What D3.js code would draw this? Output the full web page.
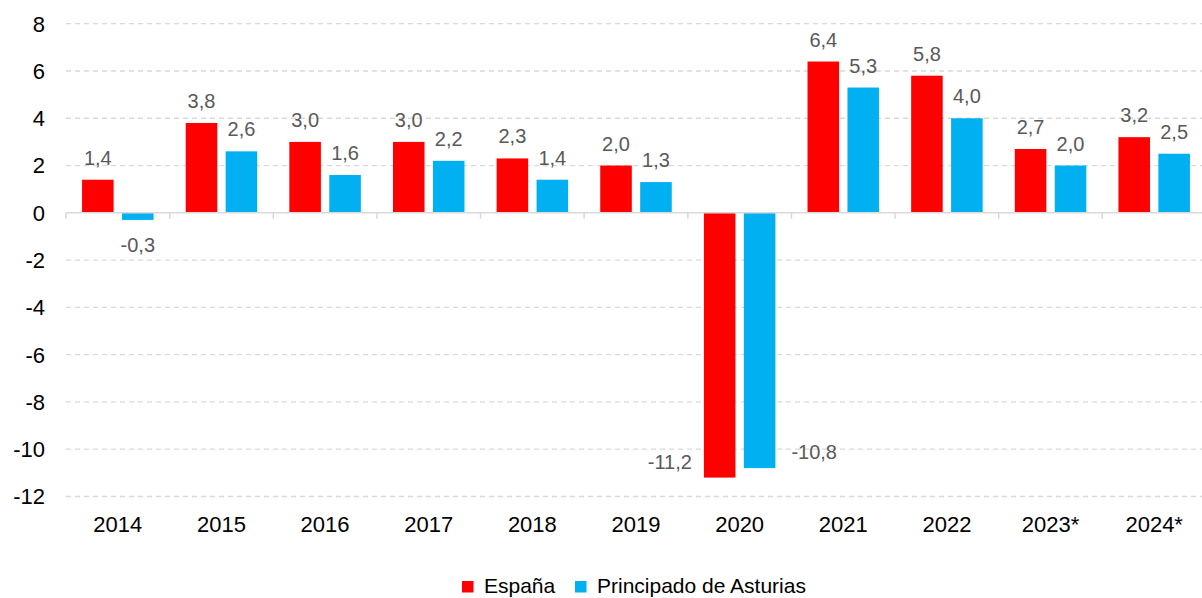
<!DOCTYPE html>
<html>
<head>
<meta charset="utf-8">
<script src="https://cdn.jsdelivr.net/npm/d3@7"></script>
<style>
  html, body { margin: 0; padding: 0; background: #fff; }
  svg { display: block; font-family: "Liberation Sans", Arial, sans-serif; }
  .grid line { stroke: #d9d9d9; stroke-width: 1.3; stroke-dasharray: 5 4; }
  .axis-label { fill: #000; font-size: 22px; }
  .value-label { fill: #595959; font-size: 20px; }
  .legend-label { fill: #000; font-size: 21px; }
</style>
</head>
<body>
<div id="draw-space"></div>
<script>
const years = ['2014', '2015', '2016', '2017', '2018', '2019', '2020', '2021', '2022', '2023*', '2024*'];
const espana = [1.4, 3.8, 3.0, 3.0, 2.3, 2.0, -11.2, 6.4, 5.8, 2.7, 3.2];
const asturias = [-0.3, 2.6, 1.6, 2.2, 1.4, 1.3, -10.8, 5.3, 4.0, 2.0, 2.5];
const seriesNames = ['España', 'Principado de Asturias'];
const yTicks = [8, 6, 4, 2, 0, -2, -4, -6, -8, -10, -12];

const colors = { 'España': '#ff0000', 'Principado de Asturias': '#00b0f0' };

const W = 1202, H = 598;
const svg = d3.select('#draw-space').append('svg')
              .attr('width', W)
              .attr('height', H);

const xScale = d3.scaleBand()
                 .domain(years)
                 .range([66, 1206])
                 .paddingInner(0.31)
                 .paddingOuter(0.155);

const xInner = d3.scaleBand()
                 .domain(seriesNames)
                 .range([0, xScale.bandwidth()])
                 .paddingInner(0.21);

const yScale = d3.scaleLinear()
                 .domain([-12, 8])
                 .range([496.5, 23.7]);

// dashed gridlines
svg.append('g')
   .attr('class', 'grid')
   .selectAll('line')
   .data(yTicks.filter(d => d !== 0))
   .enter()
   .append('line')
     .attr('x1', 66)
     .attr('x2', W)
     .attr('y1', d => yScale(d))
     .attr('y2', d => yScale(d));

// y labels
svg.append('g')
   .selectAll('text')
   .data(yTicks)
   .enter()
   .append('text')
     .attr('class', 'axis-label')
     .attr('x', 45)
     .attr('y', d => yScale(d))
     .attr('dy', '0.36em')
     .attr('text-anchor', 'end')
     .text(d => d);

// x labels
svg.append('g')
   .selectAll('text')
   .data(years)
   .enter()
   .append('text')
     .attr('class', 'axis-label')
     .attr('x', d => xScale(d) + xScale.bandwidth() / 2)
     .attr('y', 532)
     .attr('text-anchor', 'middle')
     .text(d => d);

const rows = [];
years.forEach((y, i) => {
  rows.push({ year: y, name: seriesNames[0], value: espana[i] });
  rows.push({ year: y, name: seriesNames[1], value: asturias[i] });
});

const barX = d => xScale(d.year) + xInner(d.name);

svg.append('g')
   .selectAll('rect')
   .data(rows)
   .enter()
   .append('rect')
     .attr('x', barX)
     .attr('width', xInner.bandwidth())
     .attr('y', d => yScale(Math.max(0, d.value)))
     .attr('height', d => Math.abs(yScale(d.value) - yScale(0)))
     .attr('fill', d => colors[d.name]);

// zero line with category ticks
const step = xScale.step();
const zeroY = yScale(0);
svg.append('line')
   .attr('x1', 66)
   .attr('x2', W)
   .attr('y1', zeroY)
   .attr('y2', zeroY)
   .attr('stroke', '#d9d9d9')
   .attr('stroke-width', 1.5);

svg.append('g')
   .selectAll('line')
   .data(d3.range(years.length + 1))
   .enter()
   .append('line')
     .attr('x1', i => 66 + i * step)
     .attr('x2', i => 66 + i * step)
     .attr('y1', zeroY)
     .attr('y2', zeroY + 6)
     .attr('stroke', '#d9d9d9')
     .attr('stroke-width', 1.5);

// value labels
const fmt = v => v.toFixed(1).replace('.', ',');
svg.append('g')
   .selectAll('text')
   .data(rows)
   .enter()
   .append('text')
     .attr('class', 'value-label')
     .attr('x', d => {
       if (d.value < -5) {
         return d.name === seriesNames[0] ? barX(d) - 12 : barX(d) + xInner.bandwidth() + 16;
       }
       return barX(d) + xInner.bandwidth() / 2;
     })
     .attr('y', d => {
       if (d.value < -5) return yScale(d.value) - 9;
       if (d.value < 0) return yScale(d.value) + 32;
       return yScale(d.value) - 15;
     })
     .attr('text-anchor', d => {
       if (d.value < -5) return d.name === seriesNames[0] ? 'end' : 'start';
       return 'middle';
     })
     .text(d => fmt(d.value));

// legend
const legend = svg.append('g');
const legendX = [462, 575];
const legendItems = legend.selectAll('g')
                          .data(seriesNames)
                          .enter()
                          .append('g')
                          .attr('transform', (d, i) => `translate(${legendX[i]},581)`);

legendItems.append('rect')
           .attr('width', 11.5)
           .attr('height', 11.5)
           .attr('fill', d => colors[d]);

legendItems.append('text')
           .attr('class', 'legend-label')
           .attr('x', 22)
           .attr('y', 12)
           .text(d => d);
</script>
</body>
</html>
